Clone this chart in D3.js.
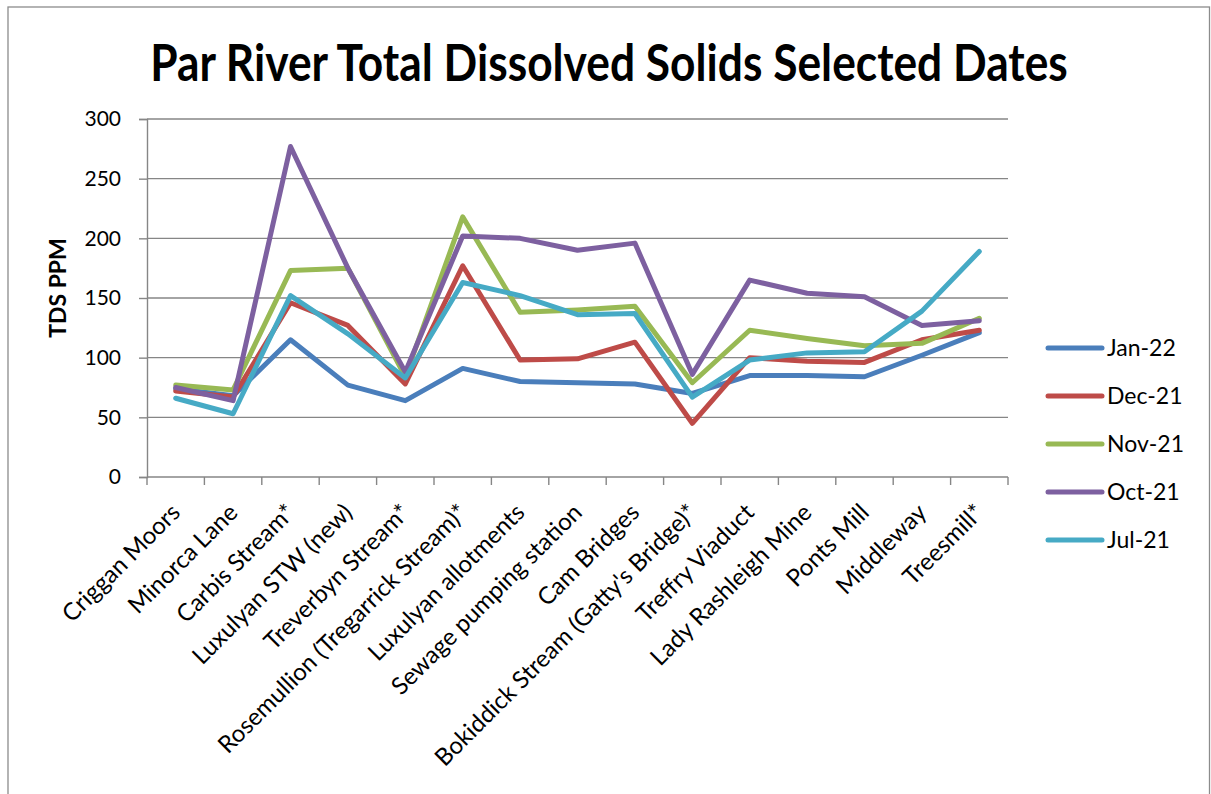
<!DOCTYPE html>
<html>
<head>
<meta charset="utf-8">
<script src="https://cdn.jsdelivr.net/npm/d3@7"></script>
<style>
  html, body { margin: 0; padding: 0; background: #fff; }
  svg { display: block; font-family: Lato, "Open Sans", sans-serif; }
</style>
</head>
<body>
<svg id="chart" width="1211" height="794"></svg>
<script>
const categories = ["Criggan Moors", "Minorca Lane", "Carbis Stream*", "Luxulyan STW (new)", "Treverbyn Stream*",
  "Rosemullion (Tregarrick Stream)*", "Luxulyan allotments", "Sewage pumping station", "Cam Bridges",
  "Bokiddick Stream (Gatty's Bridge)*", "Treffry Viaduct", "Lady Rashleigh Mine", "Ponts Mill", "Middleway", "Treesmill*"];

const seriesNames = ["Jan-22", "Dec-21", "Nov-21", "Oct-21", "Jul-21"];
const jan22 = [74, 68, 115, 77, 64, 91, 80, 79, 78, 70, 85, 85, 84, 102, 121];
const dec21 = [72, 67, 146, 127, 78, 177, 98, 99, 113, 45, 100, 97, 96, 115, 123];
const nov21 = [77, 73, 173, 175, 84, 218, 138, 140, 143, 79, 123, 116, 110, 112, 133];
const oct21 = [75, 64, 277, 175, 88, 202, 200, 190, 196, 86, 165, 154, 151, 127, 131];
const jul21 = [66, 53, 152, 120, 83, 163, 152, 136, 137, 67, 98, 104, 105, 139, 189];
const seriesColors = ["#4A7EBB", "#BE4B48", "#98B954", "#7D60A0", "#46AAC5"];
const yTicks = [0, 50, 100, 150, 200, 250, 300];

const titleText = "Par River Total Dissolved Solids Selected Dates";
const yLabel = "TDS PPM";

const series = seriesNames.map((name, i) => ({
  name, color: seriesColors[i], values: [jan22, dec21, nov21, oct21, jul21][i]
}));

const svg = d3.select("#chart");
const plot = { left: 147, right: 1008, top: 119, bottom: 477 };
const gridColor = "#868686";

// outer frame
svg.append("rect").attr("x", 8).attr("y", 7).attr("width", 1201.5).attr("height", 800)
  .attr("fill", "#fff").attr("stroke", "#8c8c8c").attr("stroke-width", 1.3);

const x = d3.scaleBand().domain(categories).range([plot.left, plot.right]).paddingInner(0).paddingOuter(0);
const y = d3.scaleLinear().domain([0, 300]).range([plot.bottom, plot.top]);
const cx = c => x(c) + x.bandwidth() / 2;

// gridlines
svg.append("g").selectAll("line").data(yTicks.filter(t => t > 0)).join("line")
  .attr("x1", plot.left).attr("x2", plot.right)
  .attr("y1", d => y(d)).attr("y2", d => y(d))
  .attr("stroke", gridColor).attr("stroke-width", 1.4);

// y axis
const yAxis = svg.append("g").attr("transform", `translate(${plot.left},0)`)
  .call(d3.axisLeft(y).tickValues(yTicks).tickSize(8).tickPadding(18).tickFormat(d3.format("d")));
yAxis.select(".domain").attr("stroke", gridColor).attr("stroke-width", 1.4);
yAxis.selectAll(".tick line").attr("stroke", gridColor).attr("stroke-width", 1.4);
yAxis.selectAll(".tick text").attr("font-size", 21).attr("font-family", "Lato, sans-serif").attr("fill", "#000");

// x axis line and boundary ticks
const boundaries = categories.map(c => x(c)).concat([x(categories[categories.length - 1]) + x.bandwidth()]);
svg.append("line").attr("x1", plot.left).attr("x2", plot.right).attr("y1", plot.bottom).attr("y2", plot.bottom)
  .attr("stroke", gridColor).attr("stroke-width", 1.4);
svg.append("g").selectAll("line").data(boundaries).join("line")
  .attr("x1", d => d).attr("x2", d => d).attr("y1", plot.bottom).attr("y2", plot.bottom + 8)
  .attr("stroke", gridColor).attr("stroke-width", 1.4);

// x labels
svg.append("g").selectAll("text").data(categories).join("text")
  .attr("transform", d => `translate(${cx(d) + 6},${plot.bottom + 37}) rotate(-45)`)
  .attr("text-anchor", "end")
  .attr("font-size", 24)
  .attr("fill", "#000")
  .text(d => d);

// lines
const line = d3.line().x((d, i) => cx(categories[i])).y(d => y(d));
svg.append("g").selectAll("path").data(series).join("path")
  .attr("d", d => line(d.values))
  .attr("fill", "none")
  .attr("stroke", d => d.color)
  .attr("stroke-width", 5)
  .attr("stroke-linejoin", "round")
  .attr("stroke-linecap", "round");

// title
const title = svg.append("text")
  .attr("x", 0).attr("y", 0)
  .attr("text-anchor", "middle")
  .attr("font-size", 52).attr("font-weight", "bold").attr("fill", "#000")
  .text(titleText);
const tw = title.node().getComputedTextLength();
const sx = Math.min(1, 918 / tw);
title.attr("transform", `translate(609,81) scale(${sx},1)`);

// y label
svg.append("text")
  .attr("transform", "translate(66,288) rotate(-90)")
  .attr("text-anchor", "middle")
  .attr("font-size", 23).attr("font-weight", "bold").attr("fill", "#000")
  .text(yLabel);

// legend
const legend = svg.append("g").selectAll("g").data(series).join("g")
  .attr("transform", (d, i) => `translate(1048,${348 + i * 48})`);
legend.append("line").attr("x1", 0).attr("x2", 54).attr("y1", 0).attr("y2", 0)
  .attr("stroke", d => d.color).attr("stroke-width", 5).attr("stroke-linecap", "round");
legend.append("text").attr("x", 59).attr("y", 8)
  .attr("font-size", 23).attr("fill", "#000").text(d => d.name);
</script>
</body>
</html>
